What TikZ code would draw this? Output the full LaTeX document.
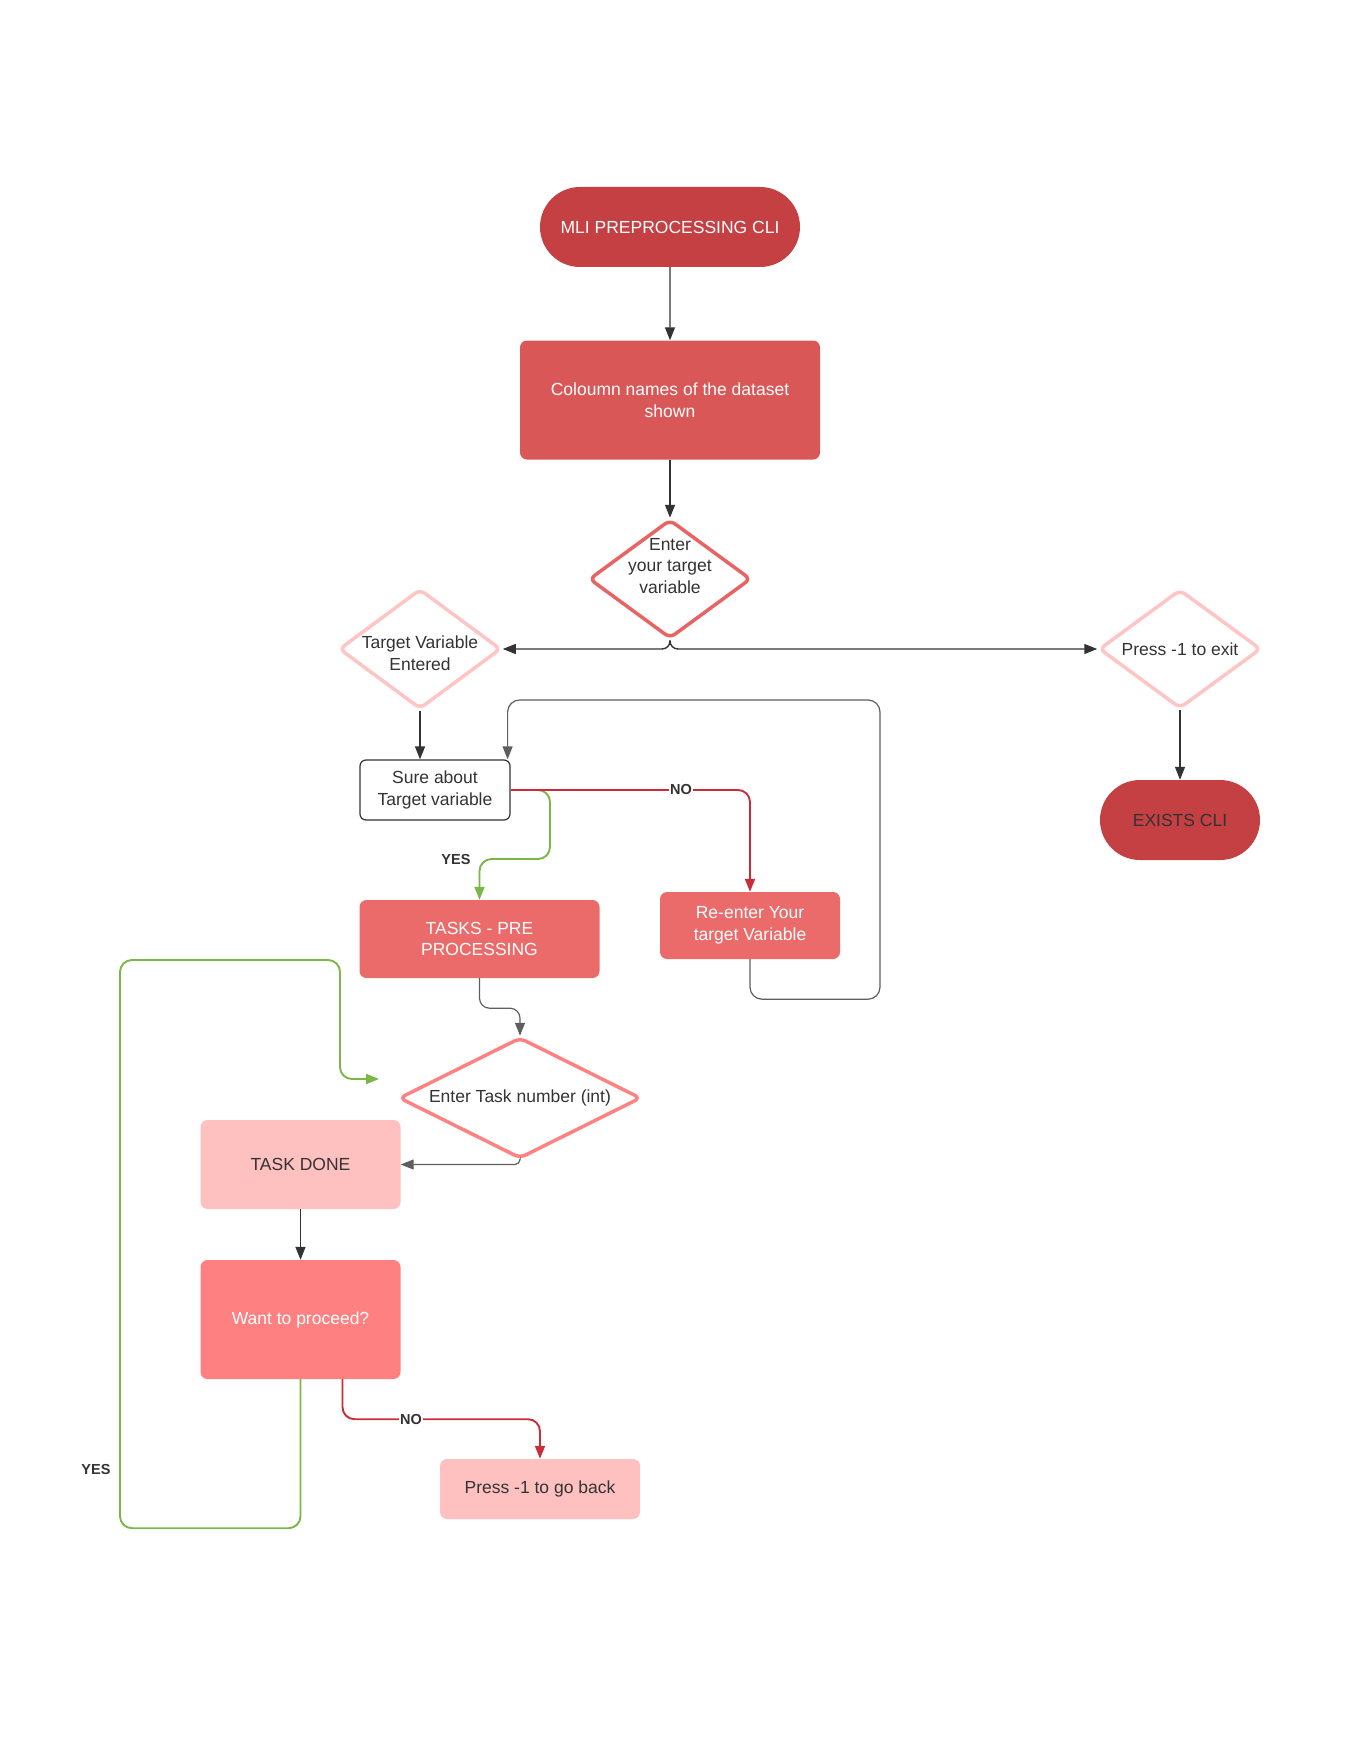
\documentclass[tikz,border=0pt]{standalone}
\usepackage{fontspec}
\setmainfont{Liberation Sans}
\usetikzlibrary{shapes.geometric,shapes.misc,arrows.meta}
\definecolor{cTerm}{HTML}{C44043}
\definecolor{cCol}{HTML}{D95757}
\definecolor{cEnter}{HTML}{E86464}
\definecolor{cPink}{HTML}{FFC4C4}
\definecolor{cTask}{HTML}{EB6A6A}
\definecolor{cETask}{HTML}{FF8282}
\definecolor{cLight}{HTML}{FFC0C0}
\definecolor{cWant}{HTML}{FF8080}
\definecolor{cRed}{HTML}{C92D39}
\definecolor{cGreen}{HTML}{7AB648}
\definecolor{cText}{HTML}{333333}
\definecolor{cGray}{HTML}{5E5E5E}
\begin{document}
\begin{tikzpicture}[x=1pt,y=-1pt,
  every node/.style={font=\fontsize{17.5}{21.5}\selectfont, align=center, inner sep=0pt},
  term/.style={rounded rectangle, fill=cTerm, minimum width=260pt, minimum height=80pt},
  box/.style={rectangle, rounded corners=7pt},
  dia/.style={diamond, line width=3.5pt, fill=white, rounded corners=6pt, inner sep=0pt},
  dtext/.style={text=cText, align=center},
  arr/.style={-{Triangle[length=13pt,width=10pt]}, line width=1.4pt, draw=cText},
  redarr/.style={arr, draw=cRed, line width=1.9pt},
  greenarr/.style={arr, draw=cGreen, line width=1.9pt},
  lab/.style={font=\bfseries\fontsize{14.5}{17}\selectfont, text=cText, inner sep=1.5pt}
]
\useasboundingbox (0,0) rectangle (1360,1760);

% nodes
\node[term, text=white] (mli) at (670,227) {MLI PREPROCESSING CLI};
\node[box, fill=cCol, text=white, minimum width=300pt, minimum height=119pt] (col) at (670,400) {Coloumn names of the dataset\\shown};
\node[dia, draw=cEnter, minimum width=162pt, minimum height=119pt,
      label={[dtext, yshift=13pt]center:Enter\\your target\\variable}] (enter) at (670,579) {};
\node[dia, draw=cPink, minimum width=162pt, minimum height=120pt,
      label={[dtext, yshift=-4pt]center:Target Variable\\Entered}] (tve) at (420,649) {};
\node[dia, draw=cPink, minimum width=162pt, minimum height=119pt,
      label={[dtext]center:Press -1 to exit}] (press) at (1180,649) {};
\node[term, text=cText, minimum width=160pt] (exit) at (1180,820) {EXISTS CLI};
\node[box, draw=cText, fill=white, line width=1.2pt, rounded corners=6pt, text=cText,
      minimum width=150pt, minimum height=60pt] (sure) at (435,790) {Sure about\\Target variable};
\node[box, fill=cTask, text=white, minimum width=240pt, minimum height=78pt] (tasks) at (479.5,939) {TASKS - PRE\\PROCESSING};
\node[box, fill=cTask, text=white, minimum width=180pt, minimum height=67pt] (reenter) at (750,925.5) {Re-enter Your\\target Variable};
\node[dia, draw=cETask, minimum width=242pt, minimum height=121pt,
      label={[dtext]center:Enter Task number (int)}] (etask) at (520,1098) {};
\node[box, fill=cLight, text=cText, minimum width=200pt, minimum height=89pt] (done) at (300.5,1164.5) {TASK DONE};
\node[box, fill=cWant, text=white, minimum width=200pt, minimum height=119pt] (want) at (300.5,1319.5) {Want to proceed?};
\node[box, fill=cLight, text=cText, minimum width=200pt, minimum height=60pt] (back) at (540,1489) {Press -1 to go back};
\coordinate (gend) at (379,1079);

% connectors
\draw[arr] (mli) -- (col);
\draw[arr] (col) -- (enter);
\draw[arr, rounded corners=8pt] (enter.south) |- (tve.east);
\draw[arr, rounded corners=8pt] (enter.south) |- (press.west);
\draw[arr] (press) -- (exit);
\draw[arr] (tve.south) -- (tve.south |- sure.north);
\draw[arr, draw=cGray, line width=1.2pt, rounded corners=12pt]
  (reenter.south) -- ++(0,40) -| (880,700) -| ([xshift=-3pt]sure.north east);
\draw[greenarr, rounded corners=12pt] (sure.east) -| (550,859) -| (tasks.north);
\draw[redarr, rounded corners=12pt] (sure.east) -| (reenter.north);
\node[lab, fill=white] (no1) at (681,790) {NO};
\node[lab] (yes1) at (456,860) {YES};
\draw[arr, draw=cGray, line width=1.2pt, rounded corners=10pt] (tasks.south) -- ++(0,30) -| (etask.north);
\draw[arr, draw=cGray, line width=1.2pt, rounded corners=5pt] (etask.south) |- (done.east);
\draw[arr] (done) -- (want);
\draw[redarr, rounded corners=12pt] ([xshift=42pt]want.south) -- ++(0,40) -| (back.north);
\node[lab, fill=white] (no2) at (411,1419) {NO};
\draw[greenarr, rounded corners=12pt] (want.south) -- ++(0,149) -| (120,960) -| (340,1079) -- (gend);
\node[lab] (yes2) at (96,1469) {YES};
\end{tikzpicture}
\end{document}
